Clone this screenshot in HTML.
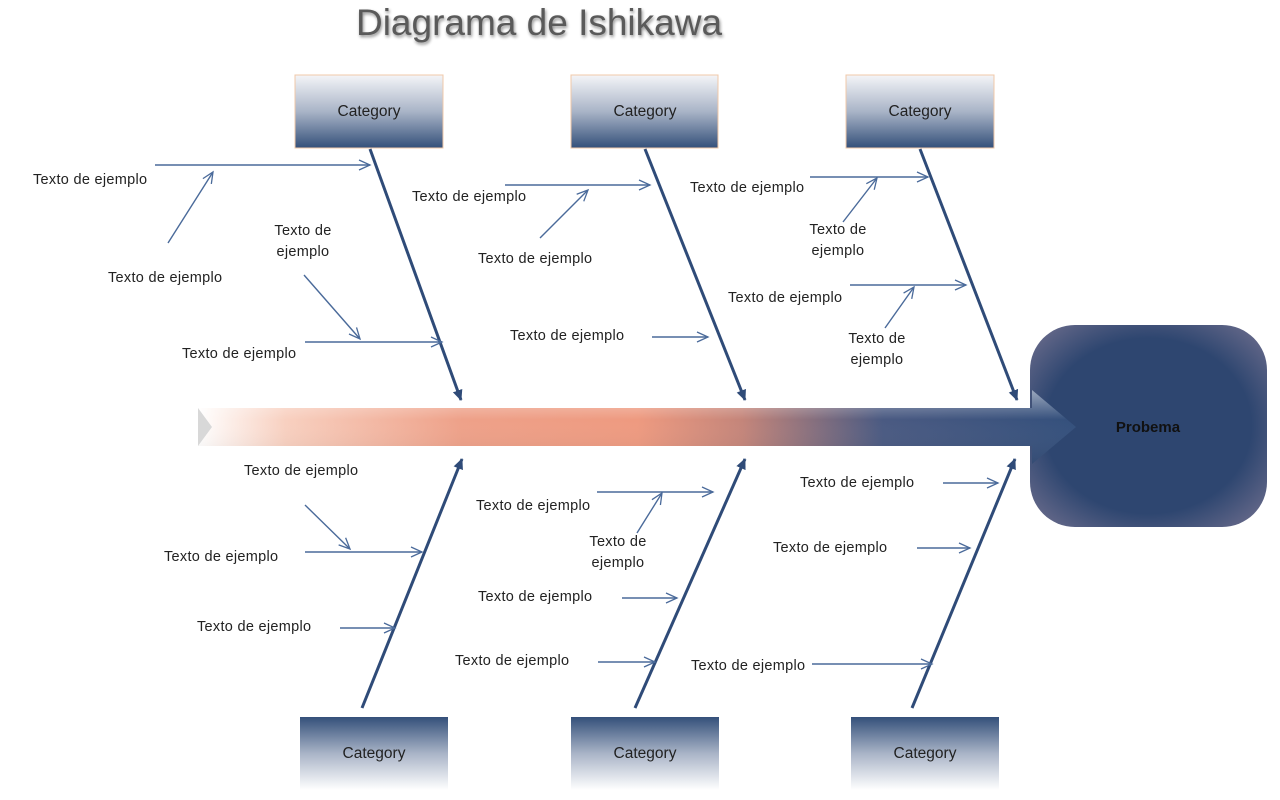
<!DOCTYPE html>
<html><head><meta charset="utf-8"><style>
html,body{margin:0;padding:0;background:#fff;width:1280px;height:800px;overflow:hidden}
svg{display:block}
text{font-family:"Liberation Sans",sans-serif}
.t{font-size:14.5px;fill:#222;letter-spacing:0.3px}
.c{font-size:15.5px;fill:#222;text-anchor:middle}
</style></head><body>
<svg width="1280" height="800" viewBox="0 0 1280 800" xmlns="http://www.w3.org/2000/svg">
<defs>
<linearGradient id="bt" x1="0" y1="0" x2="0" y2="1"><stop offset="0" stop-color="#f4f5f8"/><stop offset="0.5" stop-color="#a9b4c7"/><stop offset="1" stop-color="#34507a"/></linearGradient>
<linearGradient id="bb" x1="0" y1="0" x2="0" y2="1"><stop offset="0" stop-color="#34507a"/><stop offset="0.5" stop-color="#a9b4c7"/><stop offset="1" stop-color="#ffffff"/></linearGradient>
<linearGradient id="sp" x1="0" y1="0" x2="1" y2="0"><stop offset="0" stop-color="#ffffff"/><stop offset="0.1" stop-color="#f8d0c0"/><stop offset="0.3" stop-color="#eea189"/><stop offset="0.5" stop-color="#ee9a80"/><stop offset="0.62" stop-color="#c4857a"/><stop offset="0.78" stop-color="#4a5a82"/><stop offset="1" stop-color="#34507c"/></linearGradient>
<linearGradient id="sv" x1="0" y1="0" x2="0" y2="1"><stop offset="0" stop-color="#fff" stop-opacity="0.5"/><stop offset="0.4" stop-color="#fff" stop-opacity="0"/><stop offset="1" stop-color="#000" stop-opacity="0.08"/></linearGradient>
<radialGradient id="pb" cx="0.5" cy="0.5" r="0.62"><stop offset="0.7" stop-color="#2e4670"/><stop offset="1" stop-color="#5e6486"/></radialGradient>
<filter id="sh"><feGaussianBlur stdDeviation="1.5"/></filter>
<marker id="a" markerWidth="14" markerHeight="12" refX="12" refY="6" orient="auto" markerUnits="userSpaceOnUse"><path d="M1,1 L12,6 L1,11" fill="none" stroke="#4a6a9a" stroke-width="1.3"/></marker>
<marker id="b" markerWidth="12" markerHeight="12" refX="10" refY="6" orient="auto" markerUnits="userSpaceOnUse"><path d="M0,1 L11,6 L0,11 Z" fill="#2f4b78"/></marker>
</defs>
<text x="539" y="35" text-anchor="middle" font-size="37" fill="#000" opacity="0.45" filter="url(#sh)" dx="1" dy="2">Diagrama de Ishikawa</text>
<text x="539" y="35" text-anchor="middle" font-size="37" fill="#5a5a5a">Diagrama de Ishikawa</text>

<g stroke="#f0c8a8" stroke-width="1">
<rect x="295" y="75" width="148" height="73" fill="url(#bt)"/>
<rect x="571" y="75" width="147" height="73" fill="url(#bt)"/>
<rect x="846" y="75" width="148" height="73" fill="url(#bt)"/>
</g>
<text class="c" x="369" y="116">Category</text>
<text class="c" x="645" y="116">Category</text>
<text class="c" x="920" y="116">Category</text>
<rect x="300" y="717" width="148" height="73" fill="url(#bb)"/>
<rect x="571" y="717" width="148" height="73" fill="url(#bb)"/>
<rect x="851" y="717" width="148" height="73" fill="url(#bb)"/>
<text class="c" x="374" y="758">Category</text>
<text class="c" x="645" y="758">Category</text>
<text class="c" x="925" y="758">Category</text>

<rect x="1030" y="325" width="237" height="202" rx="45" fill="url(#pb)"/>
<text x="1148" y="432" text-anchor="middle" font-size="15" font-weight="bold" fill="#111">Probema</text>

<path d="M198,408 L1032,408 L1032,390 L1076,427 L1032,464 L1032,446 L198,446 L212,427 Z" fill="url(#sp)"/>
<path d="M198,408 L1032,408 L1032,390 L1076,427 L1032,464 L1032,446 L198,446 L212,427 Z" fill="url(#sv)"/>
<path d="M198,408 L212,427 L198,446" fill="#d8d8d8"/>

<g stroke="#2f4b78" stroke-width="3" marker-end="url(#b)">
<line x1="370" y1="149" x2="461" y2="400"/>
<line x1="645" y1="149" x2="745" y2="400"/>
<line x1="920" y1="149" x2="1017" y2="400"/>
<line x1="362" y1="708" x2="462" y2="459"/>
<line x1="635" y1="708" x2="745" y2="459"/>
<line x1="912" y1="708" x2="1015" y2="459"/>
</g>

<g stroke="#4a6a9a" stroke-width="1.4" fill="none" marker-end="url(#a)">
<line x1="155" y1="165" x2="370" y2="165"/>
<line x1="168" y1="243" x2="213" y2="172"/>
<line x1="304" y1="275" x2="360" y2="339"/>
<line x1="305" y1="342" x2="442" y2="342"/>
<line x1="505" y1="185" x2="650" y2="185"/>
<line x1="540" y1="238" x2="588" y2="190"/>
<line x1="652" y1="337" x2="708" y2="337"/>
<line x1="810" y1="177" x2="928" y2="177"/>
<line x1="843" y1="222" x2="877" y2="178"/>
<line x1="850" y1="285" x2="966" y2="285"/>
<line x1="885" y1="328" x2="914" y2="287"/>
<line x1="305" y1="505" x2="350" y2="549"/>
<line x1="305" y1="552" x2="422" y2="552"/>
<line x1="340" y1="628" x2="395" y2="628"/>
<line x1="597" y1="492" x2="713" y2="492"/>
<line x1="637" y1="533" x2="662" y2="493"/>
<line x1="622" y1="598" x2="677" y2="598"/>
<line x1="598" y1="662" x2="655" y2="662"/>
<line x1="943" y1="483" x2="998" y2="483"/>
<line x1="917" y1="548" x2="970" y2="548"/>
<line x1="812" y1="664" x2="932" y2="664"/>
</g>

<text class="t" x="33" y="184">Texto de ejemplo</text>
<text class="t" x="108" y="282">Texto de ejemplo</text>
<text class="t" x="303" y="235" text-anchor="middle">Texto de</text>
<text class="t" x="303" y="256" text-anchor="middle">ejemplo</text>
<text class="t" x="182" y="358">Texto de ejemplo</text>
<text class="t" x="412" y="201">Texto de ejemplo</text>
<text class="t" x="478" y="263">Texto de ejemplo</text>
<text class="t" x="510" y="340">Texto de ejemplo</text>
<text class="t" x="690" y="192">Texto de ejemplo</text>
<text class="t" x="838" y="234" text-anchor="middle">Texto de</text>
<text class="t" x="838" y="255" text-anchor="middle">ejemplo</text>
<text class="t" x="728" y="302">Texto de ejemplo</text>
<text class="t" x="877" y="343" text-anchor="middle">Texto de</text>
<text class="t" x="877" y="364" text-anchor="middle">ejemplo</text>
<text class="t" x="244" y="475">Texto de ejemplo</text>
<text class="t" x="164" y="561">Texto de ejemplo</text>
<text class="t" x="197" y="631">Texto de ejemplo</text>
<text class="t" x="476" y="510">Texto de ejemplo</text>
<text class="t" x="618" y="546" text-anchor="middle">Texto de</text>
<text class="t" x="618" y="567" text-anchor="middle">ejemplo</text>
<text class="t" x="478" y="601">Texto de ejemplo</text>
<text class="t" x="455" y="665">Texto de ejemplo</text>
<text class="t" x="800" y="487">Texto de ejemplo</text>
<text class="t" x="773" y="552">Texto de ejemplo</text>
<text class="t" x="691" y="670">Texto de ejemplo</text>
</svg>
</body></html>
